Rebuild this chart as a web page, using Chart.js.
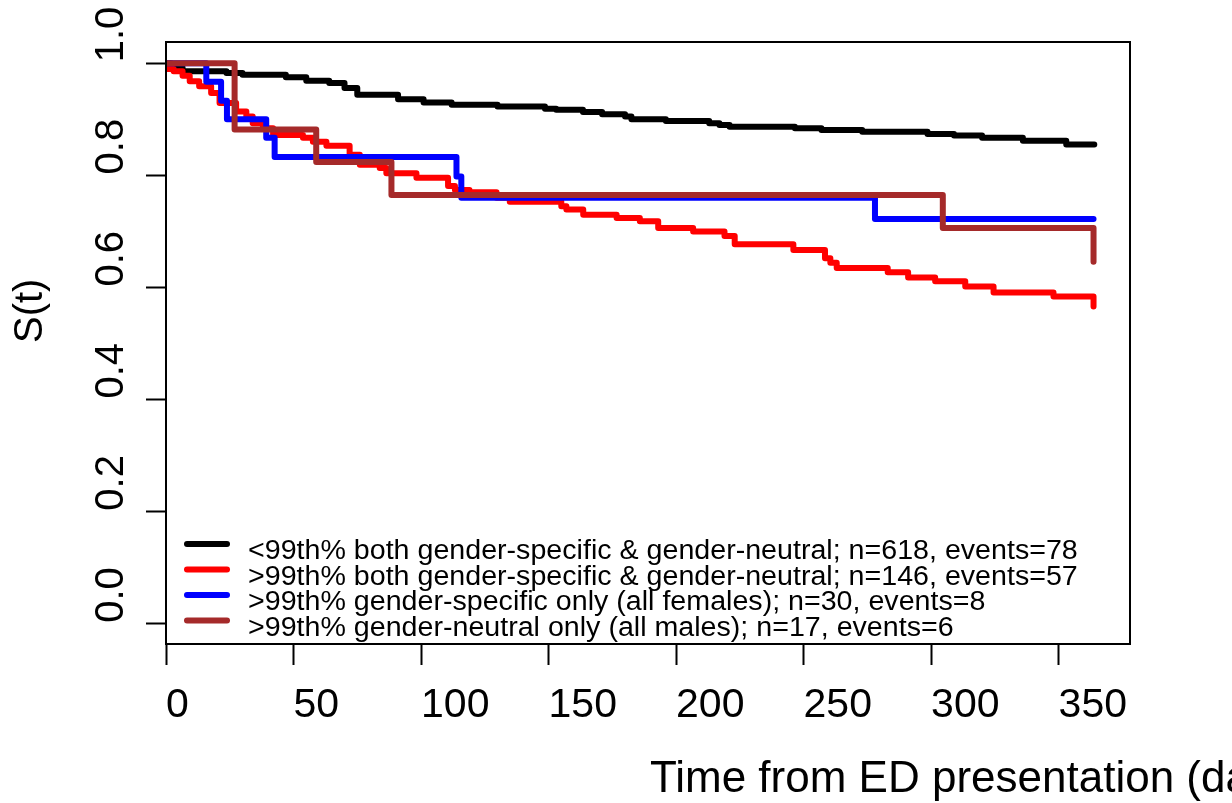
<!DOCTYPE html>
<html>
<head>
<meta charset="utf-8">
<script src="https://cdn.jsdelivr.net/npm/chart.js@4.4.1/dist/chart.umd.min.js"></script>
<style>
  html, body { margin: 0; padding: 0; background: #fff; }
  canvas { display: block; }
</style>
</head>
<body>
<canvas id="kmChart" width="1232" height="803"></canvas>
<script>
// survival curves: step times (days) and S(t) after each step
var blackT = [0, 2, 6.5, 23.7, 30, 47, 55, 64, 70, 75, 91, 101, 112, 130, 148.6, 153, 163.5, 171, 180, 182.5, 196, 213, 217, 221, 246.6, 257, 273, 298.6, 309, 320, 336, 353, 364];
var blackS = [1.0, 0.992, 0.986, 0.9825, 0.9795, 0.975, 0.969, 0.965, 0.956, 0.944, 0.936, 0.930, 0.926, 0.923, 0.919, 0.917, 0.913, 0.909, 0.905, 0.900, 0.897, 0.893, 0.890, 0.887, 0.884, 0.881, 0.878, 0.874, 0.871, 0.867, 0.862, 0.855, 0.855];

var redT = [0, 0.5, 3, 6.5, 9.3, 13, 17.7, 21, 27.5, 31.5, 34, 38, 42, 53.7, 57.6, 62.9, 72, 76, 83.8, 86.4, 98.2, 110.6, 113.3, 119, 129.6, 134.8, 155, 157, 163.6, 176.7, 185.8, 193, 206.7, 219, 223, 246, 258.4, 260.5, 263, 283, 291, 301.6, 313.4, 324.5, 348, 363.7];
var redS = [1.0, 0.990, 0.986, 0.978, 0.968, 0.959, 0.947, 0.929, 0.914, 0.905, 0.893, 0.884, 0.872, 0.867, 0.860, 0.853, 0.837, 0.819, 0.813, 0.804, 0.796, 0.781, 0.774, 0.770, 0.760, 0.753, 0.745, 0.739, 0.730, 0.724, 0.718, 0.706, 0.700, 0.692, 0.677, 0.667, 0.652, 0.644, 0.635, 0.627, 0.618, 0.611, 0.602, 0.591, 0.584, 0.566];

var blueT = [0, 15.8, 21.6, 23.9, 39.3, 42.6, 113.9, 115.8, 278, 363.7];
var blueS = [1.0, 0.967, 0.933, 0.900, 0.867, 0.833, 0.798, 0.760, 0.722, 0.722];

var brownT = [0, 26.9, 58.9, 88.4, 304.6, 363.7];
var brownS = [1.0, 0.882, 0.824, 0.765, 0.706, 0.646];

var seriesLabels = [
    '<99th% both gender-specific & gender-neutral; n=618, events=78',
    '>99th% both gender-specific & gender-neutral; n=146, events=57',
    '>99th% gender-specific only (all females); n=30, events=8',
    '>99th% gender-neutral only (all males); n=17, events=6'
];
var seriesColors = ['#000000', '#ff0000', '#0000ff', '#a52a2a'];

var xTicks = [0, 50, 100, 150, 200, 250, 300, 350];
var yTicks = [0.0, 0.2, 0.4, 0.6, 0.8, 1.0];
var xTitle = 'Time from ED presentation (days)';
var yTitle = 'S(t)';

function toPoints(ts, ss) {
    return ts.map(function (t, i) { return { x: t, y: ss[i] }; });
}

var FONT = '"Liberation Sans", Arial, Helvetica, sans-serif';

// R-style text: tick labels, titles, legend and the box
var rText = {
    id: 'rText',
    afterDraw: function (chart) {
        var ctx = chart.ctx;
        var a = chart.chartArea;
        var xs = chart.scales.x, ys = chart.scales.y;
        ctx.save();
        ctx.strokeStyle = '#000';
        ctx.lineWidth = 2;
        ctx.strokeRect(a.left, a.top, a.right - a.left, a.bottom - a.top);

        ctx.fillStyle = '#000';
        ctx.textAlign = 'left';
        ctx.textBaseline = 'alphabetic';
        ctx.font = '41px ' + FONT;
        xTicks.forEach(function (v) {
            ctx.fillText(String(v), xs.getPixelForValue(v), 717);
        });
        ctx.font = '40px ' + FONT;
        yTicks.forEach(function (v) {
            ctx.save();
            ctx.translate(123, ys.getPixelForValue(v) - 1);
            ctx.rotate(-Math.PI / 2);
            ctx.fillText(v.toFixed(1), 0, 0);
            ctx.restore();
        });

        ctx.font = '44px ' + FONT;
        ctx.fillText(xTitle, (a.left + a.right) / 2 + 2, 792);
        ctx.font = '40px ' + FONT;
        ctx.save();
        ctx.translate(42, (a.top + a.bottom) / 2);
        ctx.rotate(-Math.PI / 2);
        ctx.fillText(yTitle, 0, 0);
        ctx.restore();

        // legend
        var rows = [544, 569.5, 595, 620.5];
        ctx.font = '27px ' + FONT;
        ctx.lineCap = 'round';
        ctx.lineWidth = 6;
        seriesLabels.forEach(function (lab, i) {
            ctx.strokeStyle = seriesColors[i];
            ctx.beginPath();
            ctx.moveTo(187, rows[i]);
            ctx.lineTo(227, rows[i]);
            ctx.stroke();
            ctx.save();
            ctx.translate(248, rows[i] + 15);
            ctx.scale(1.06, 1);
            ctx.fillText(lab, 0, 0);
            ctx.restore();
        });
        ctx.restore();
    }
};

var series = [[blackT, blackS], [redT, redS], [blueT, blueS], [brownT, brownS]];

var ctx = document.getElementById('kmChart').getContext('2d');
var kmChart = new Chart(ctx, {
    type: 'line',
    data: {
        datasets: series.map(function (s, i) {
            return {
                label: seriesLabels[i],
                data: toPoints(s[0], s[1]),
                borderColor: seriesColors[i],
                backgroundColor: seriesColors[i],
                borderWidth: 6,
                borderCapStyle: 'round',
                borderJoinStyle: 'round',
                stepped: 'before',
                pointRadius: 0,
                fill: false,
                order: 4 - i
            };
        })
    },
    options: {
        responsive: false,
        animation: false,
        layout: { padding: { left: 146, right: 102, top: 42, bottom: 138 } },
        plugins: {
            legend: { display: false },
            tooltip: { enabled: false }
        },
        scales: {
            x: {
                type: 'linear',
                position: 'bottom',
                min: 0,
                max: 378,
                afterBuildTicks: function (s) { s.ticks = xTicks.map(function (v) { return { value: v }; }); },
                ticks: { display: false },
                grid: { drawOnChartArea: false, drawTicks: true, tickLength: 21, tickColor: '#000', tickWidth: 2 },
                border: { display: true, color: '#000', width: 2 }
            },
            y: {
                type: 'linear',
                min: -0.036,
                max: 1.038,
                afterBuildTicks: function (s) { s.ticks = yTicks.map(function (v) { return { value: v }; }); },
                ticks: { display: false },
                grid: { drawOnChartArea: false, drawTicks: true, tickLength: 20, tickColor: '#000', tickWidth: 2 },
                border: { display: true, color: '#000', width: 2 }
            }
        }
    },
    plugins: [rText]
});
</script>
</body>
</html>
